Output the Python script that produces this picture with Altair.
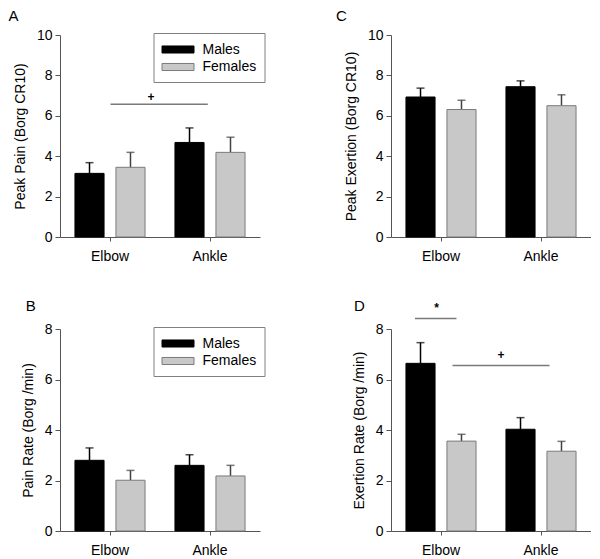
import altair as alt
import pandas as pd

sites = ["Elbow", "Ankle"]
sexes = ["Males", "Females"]

# values ordered: Elbow-Males, Elbow-Females, Ankle-Males, Ankle-Females
a_mean = [3.15, 3.45, 4.68, 4.19]
a_upper = [3.68, 4.19, 5.40, 4.94]
c_mean = [6.93, 6.31, 7.44, 6.50]
c_upper = [7.37, 6.77, 7.73, 7.04]
b_mean = [2.80, 2.01, 2.60, 2.18]
b_upper = [3.29, 2.40, 3.02, 2.60]
d_mean = [6.64, 3.56, 4.03, 3.16]
d_upper = [7.46, 3.83, 4.49, 3.55]

# significance annotations (x in site units: Elbow centre 0.5, Ankle centre 1.5)
a_lines_x1 = [0.505]
a_lines_x2 = [1.478]
a_lines_y = [6.57]
a_sym = ["+"]
a_sym_x = [0.91]
a_sym_y = [6.95]

d_lines_x1 = [0.24, 0.615]
d_lines_x2 = [0.655, 1.585]
d_lines_y = [8.42, 6.55]
d_sym = ["*", "+"]
d_sym_x = [0.455, 1.1]
d_sym_y = [8.85, 6.97]

FONT = "Liberation Sans"
fill_colors = ["#000000", "#c8c8c8"]
edge_colors = ["#000000", "#7a7a7a"]
err_colors = ["#000000", "#404040"]


def panel(means, uppers, ytitle, ymax, label, lab_x, lab_y, show_legend,
          lx1=None, lx2=None, ly=None, sym=None, sx=None, sy=None):
    df = pd.DataFrame({
        "site": [s for s in sites for _ in sexes],
        "sex": sexes * 2,
        "mean": means,
        "upper": uppers,
    })
    yscale = alt.Scale(domain=[0, ymax], nice=False)
    yaxis = alt.Axis(title=ytitle, values=list(range(0, ymax + 1, 2)), tickSize=5,
                     labelPadding=3, titlePadding=9)
    xenc = alt.X("site:N", sort=sites, scale=alt.Scale(domain=sites, paddingInner=0, paddingOuter=0),
                 axis=alt.Axis(title=None, labelAngle=0, tickSize=4, labelPadding=8))
    xo = alt.XOffset("sex:N", sort=sexes,
                     scale=alt.Scale(domain=sexes, paddingInner=0.29, paddingOuter=0.365))
    if show_legend:
        legend = alt.Legend(
            title=None, orient="none", legendX=93.5, legendY=-2,
            symbolType="M-2,-0.44H2V0.44H-2Z", symbolSize=256,
            symbolOffset=8, labelOffset=16, padding=8, rowPadding=1.5,
            strokeColor="#808080", fillColor="white", labelFontSize=14,
            labelFont=FONT, symbolStrokeWidth=1, labelColor="black",
        )
    else:
        legend = None
    base = alt.Chart(df)
    bars = base.mark_bar(strokeWidth=1).encode(
        x=xenc, xOffset=xo,
        y=alt.Y("mean:Q", scale=yscale, axis=yaxis),
        fill=alt.Fill("sex:N", sort=sexes, scale=alt.Scale(domain=sexes, range=fill_colors), legend=legend),
        stroke=alt.Stroke("sex:N", sort=sexes, scale=alt.Scale(domain=sexes, range=edge_colors), legend=legend),
    )
    errs = []
    for s, col in zip(sexes, err_colors):
        sub = base.transform_filter(alt.datum.sex == s)
        errs.append(sub.mark_rule(strokeWidth=1.5, color=col).encode(
            x=xenc, xOffset=xo,
            y=alt.Y("mean:Q", scale=yscale, axis=yaxis),
            y2="upper:Q",
        ))
        errs.append(sub.mark_tick(thickness=1.5, size=8, color=col).encode(
            x=xenc, xOffset=xo,
            y=alt.Y("upper:Q", scale=yscale, axis=yaxis),
        ))
    chart = alt.layer(errs[0], errs[2], bars, errs[1], errs[3])
    if lx1 is not None:
        ann = pd.DataFrame({"x1": lx1, "x2": lx2, "y": ly})
        sdf = pd.DataFrame({"t": sym, "x": sx, "y": sy})
        qx = alt.Scale(domain=[0, 2], nice=False, zero=False)
        rule = alt.Chart(ann).mark_rule(color="#7a7a7a", strokeWidth=1.5).encode(
            x=alt.X("x1:Q", scale=qx, axis=None), x2="x2:Q",
            y=alt.Y("y:Q", scale=yscale, axis=yaxis),
        )
        txt = alt.Chart(sdf).mark_text(fontSize=12, font=FONT, color="black",
                                       baseline="middle", fontWeight="bold").encode(
            x=alt.X("x:Q", scale=qx, axis=None),
            y=alt.Y("y:Q", scale=yscale, axis=yaxis),
            text="t:N",
        )
        chart = alt.layer(chart, alt.layer(rule, txt)).resolve_scale(x="independent")
    lab = alt.Chart(pd.DataFrame({"t": [label]})).mark_text(
        align="left", baseline="top", fontSize=15, font=FONT, color="black"
    ).encode(text="t:N", x=alt.value(lab_x), y=alt.value(lab_y))
    chart = alt.layer(chart, lab).properties(width=200, height=202)
    return chart


pA = panel(a_mean, a_upper, "Peak Pain (Borg CR10)", 10, "A", -51.5, -26.5, True,
           a_lines_x1, a_lines_x2, a_lines_y, a_sym, a_sym_x, a_sym_y)
pC = panel(c_mean, c_upper, "Peak Exertion (Borg CR10)", 10, "C", -55, -26.5, False)
pB = panel(b_mean, b_upper, "Pain Rate (Borg /min)", 8, "B", -34.3, -30.5, True)
pD = panel(d_mean, d_upper, "Exertion Rate (Borg /min)", 8, "D", -37, -30.5, False,
           d_lines_x1, d_lines_x2, d_lines_y, d_sym, d_sym_x, d_sym_y)

chart = alt.concat(
    pA, pC, pB, pD, columns=2, spacing={"row": 92, "column": 131}, bounds="flush"
).resolve_scale(
    fill="independent", stroke="independent", x="independent", y="independent"
).resolve_legend(
    fill="independent", stroke="independent"
).properties(padding=0).configure(font=FONT).configure_view(stroke=None).configure_axis(
    grid=False, domainColor="#555555", tickColor="#555555", labelColor="black",
    titleColor="black", labelFont=FONT, titleFont=FONT, labelFontSize=14,
    titleFontSize=14, titleFontWeight="normal", domainWidth=1, tickWidth=1,
)

chart.save("out.html", embed_options={"renderer": "svg", "actions": False})
